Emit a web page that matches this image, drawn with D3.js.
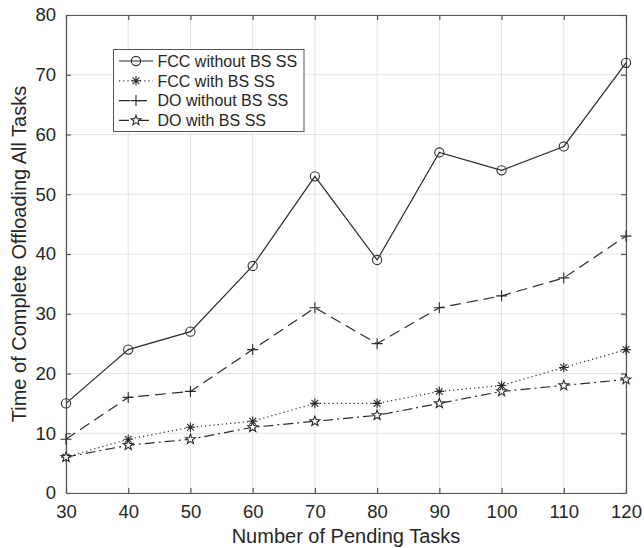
<!DOCTYPE html>
<html>
<head>
<meta charset="utf-8">
<script src="https://cdn.jsdelivr.net/npm/d3@7"></script>
<style>
  html, body { margin: 0; padding: 0; background: #fff; }
  svg { display: block; font-family: "Liberation Sans", Arial, Helvetica, sans-serif; }
</style>
</head>
<body>
<svg id="chart" width="644" height="548"></svg>
<script>
// Number of pending tasks (x axis)
const tasks = [30, 40, 50, 60, 70, 80, 90, 100, 110, 120];

// Completion time per scheme
const fccWithout = [15, 24, 27, 38, 53, 39, 57, 54, 58, 72];
const fccWith    = [6, 9, 11, 12, 15, 15, 17, 18, 21, 24];
const doWithout  = [9, 16, 17, 24, 31, 25, 31, 33, 36, 43];
const doWith     = [6, 8, 9, 11, 12, 13, 15, 17, 18, 19];

const seriesNames = ["FCC without BS SS", "FCC with BS SS", "DO without BS SS", "DO with BS SS"];
const xTicks = [30, 40, 50, 60, 70, 80, 90, 100, 110, 120];
const yTicks = [0, 10, 20, 30, 40, 50, 60, 70, 80];

const series = [
  { name: seriesNames[0], values: fccWithout, dash: null,          marker: "circle" },
  { name: seriesNames[1], values: fccWith,    dash: "1.2,3",       marker: "asterisk" },
  { name: seriesNames[2], values: doWithout,  dash: "11,6",        marker: "plus" },
  { name: seriesNames[3], values: doWith,     dash: "10,4,2,4",    marker: "star" }
];

const W = 644, H = 548;
const m = { left: 66, right: 18, top: 15, bottom: 55 };
const svg = d3.select("#chart");

const x = d3.scaleLinear().domain([30, 120]).range([m.left, W - m.right]);
const y = d3.scaleLinear().domain([0, 80]).range([H - m.bottom, m.top]);

const ink = "#262626";
const axisCol = "#555";
const lineCol = "#2b2b2b";

// grid
const grid = svg.append("g");
grid.selectAll(".gx").data(xTicks).join("line")
  .attr("x1", d => x(d)).attr("x2", d => x(d))
  .attr("y1", y(0)).attr("y2", y(80))
  .attr("stroke", "#e3e3e3").attr("stroke-width", 1);
grid.selectAll(".gy").data(yTicks).join("line")
  .attr("x1", x(30)).attr("x2", x(120))
  .attr("y1", d => y(d)).attr("y2", d => y(d))
  .attr("stroke", "#e3e3e3").attr("stroke-width", 1);

// axes (box style, inward ticks on all sides)
const tickLen = 5;
function styleAxis(g) {
  g.select(".domain").attr("stroke", axisCol).attr("stroke-width", 1.2);
  g.selectAll(".tick line").attr("stroke", axisCol).attr("stroke-width", 1.2);
  g.selectAll(".tick text").attr("fill", ink).style("font-size", "18.5px");
}
svg.append("g").attr("transform", `translate(0,${y(0)})`)
  .call(d3.axisBottom(x).tickValues(xTicks).tickSizeInner(-tickLen).tickSizeOuter(0).tickPadding(12))
  .call(styleAxis);
svg.append("g").attr("transform", `translate(0,${y(80)})`)
  .call(d3.axisTop(x).tickValues(xTicks).tickSizeInner(-tickLen).tickSizeOuter(0).tickFormat(""))
  .call(styleAxis);
svg.append("g").attr("transform", `translate(${x(30)},0)`)
  .call(d3.axisLeft(y).tickValues(yTicks).tickSizeInner(-tickLen).tickSizeOuter(0).tickPadding(10))
  .call(styleAxis);
svg.append("g").attr("transform", `translate(${x(120)},0)`)
  .call(d3.axisRight(y).tickValues(yTicks).tickSizeInner(-tickLen).tickSizeOuter(0).tickFormat(""))
  .call(styleAxis);

// axis titles
svg.append("text")
  .attr("x", (x(30) + x(120)) / 2).attr("y", 543)
  .attr("text-anchor", "middle").attr("fill", ink).style("font-size", "20px")
  .text("Number of Pending Tasks");
svg.append("text")
  .attr("transform", `translate(26,${(y(0) + y(80)) / 2}) rotate(-90)`)
  .attr("text-anchor", "middle").attr("fill", ink).style("font-size", "20px")
  .text("Time of Complete Offloading All Tasks");

// marker shapes
function starPath(r) {
  const pts = [];
  const ri = r * 0.42;
  for (let i = 0; i < 10; i++) {
    const a = -Math.PI / 2 + i * Math.PI / 5;
    const rr = i % 2 === 0 ? r : ri;
    pts.push([rr * Math.cos(a), rr * Math.sin(a)]);
  }
  return "M" + pts.map(p => p.join(",")).join("L") + "Z";
}
function drawMarker(g, type, cx, cy) {
  const s = g.append("g").attr("transform", `translate(${cx},${cy})`)
    .attr("stroke", lineCol).attr("stroke-width", 1.1).attr("fill", "none");
  if (type === "circle") {
    s.append("circle").attr("r", 4.6);
  } else if (type === "plus") {
    s.append("path").attr("d", "M-5.5,0H5.5M0,-5.5V5.5");
  } else if (type === "asterisk") {
    const r = 4.8, d = r * Math.SQRT1_2;
    s.append("path").attr("d", `M${-r},0H${r}M0,${-r}V${r}M${-d},${-d}L${d},${d}M${-d},${d}L${d},${-d}`);
  } else if (type === "star") {
    s.append("path").attr("d", starPath(5.2)).attr("fill", "#fff");
  }
}

// series lines and markers
const line = d3.line().x((d, i) => x(tasks[i])).y(d => y(d));
series.forEach(s => {
  svg.append("path").datum(s.values)
    .attr("d", line).attr("fill", "none")
    .attr("stroke", lineCol).attr("stroke-width", 1.2)
    .attr("stroke-dasharray", s.dash);
  const mg = svg.append("g");
  s.values.forEach((v, i) => drawMarker(mg, s.marker, x(tasks[i]), y(v)));
});

// legend
const lg = svg.append("g").attr("transform", "translate(113.5,49.5)");
lg.append("rect").attr("width", 190.5).attr("height", 82)
  .attr("fill", "#fff").attr("stroke", axisCol).attr("stroke-width", 1);
series.forEach((s, i) => {
  const cy = 11.5 + i * 19.8;
  lg.append("line").attr("x1", 5.5).attr("x2", 39.5).attr("y1", cy).attr("y2", cy)
    .attr("stroke", lineCol).attr("stroke-width", 1.2)
    .attr("stroke-dasharray", s.dash);
  drawMarker(lg, s.marker, 22.5, cy);
  lg.append("text").attr("x", 44).attr("y", cy).attr("dy", "0.36em")
    .attr("fill", ink).style("font-size", "16px").text(s.name);
});
</script>
</body>
</html>
